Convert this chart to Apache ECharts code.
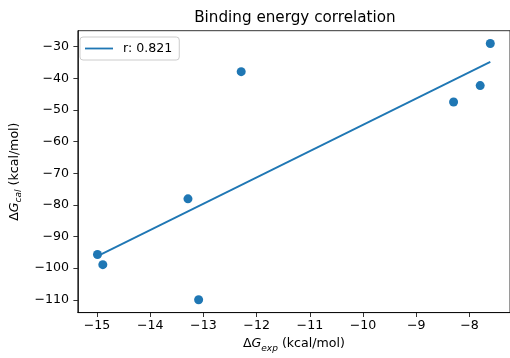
<!DOCTYPE html>
<html>
<head>
<meta charset="utf-8">
<script src="https://cdn.jsdelivr.net/npm/echarts@6/dist/echarts.min.js"></script>
<style>html,body{margin:0;padding:0;background:#fff}#c{width:510px;height:358px}</style>
</head>
<body>
<div id="c"></div>
<script>
var expValues = [-14.99, -14.89, -13.29, -13.09, -12.29, -8.30, -7.80, -7.61];
var calValues = [-95.7, -98.9, -78.1, -110.0, -37.9, -47.5, -42.3, -29.0];
var fitX = [-14.99, -7.61];
var fitY = [-96.2, -34.8];
var xTicks = [-15, -14, -13, -12, -11, -10, -9, -8];
var yTicks = [-110, -100, -90, -80, -70, -60, -50, -40, -30];
var legendLabel = 'r: 0.821';
var titleText = 'Binding energy correlation';

var FONT = 'DejaVu Sans';
var BLUE = '#1f77b4';
function fmt(v){ return String(Math.round(v)).replace('-', '\u2212'); }

var chart = echarts.init(document.getElementById('c'), null, {renderer:'canvas'});
var scatterData = expValues.map(function(x,i){ return [x, calValues[i]]; });
var lineData = fitX.map(function(x,i){ return [x, fitY[i]]; });

function richName(){
  return {
    n: {fontFamily: FONT, fontSize: 12.6, color: '#000', lineHeight: 18, verticalAlign: 'middle'},
    i: {fontFamily: FONT, fontSize: 12.6, fontStyle: 'italic', color: '#000', lineHeight: 18, verticalAlign: 'middle'},
    s: {fontFamily: FONT, fontSize: 9, fontStyle: 'italic', color: '#000', lineHeight: 9, verticalAlign: 'bottom'}
  };
}

chart.setOption({
  animation: false,
  backgroundColor: '#fff',
  title: {
    text: titleText, left: 294.9, textAlign: 'center', top: 11, padding: 0,
    textStyle: {fontFamily: FONT, fontSize: 15.2, fontWeight: 'normal', color: '#000'}
  },
  legend: {
    left: 80, top: 37, orient: 'vertical',
    padding: [5, 7, 5, 5],
    itemWidth: 28, itemHeight: 1.8,
    backgroundColor: 'rgba(255,255,255,0.8)',
    borderColor: '#cccccc', borderWidth: 1, borderRadius: 3,
    textStyle: {fontFamily: FONT, fontSize: 12.6, color: '#000', padding: [0,0,0,5]},
    data: [{name: legendLabel, icon: 'rect'}]
  },
  grid: {left: 74, top: 30.7, width: 441.7, height: 287.6, containLabel: false,
         show: true, borderColor: '#000', borderWidth: 0.8, backgroundColor: 'transparent'},
  xAxis: {
    type: 'value', min: -15.36, max: -7.24,
    name: '{n|Δ}{i|G}{s|exp}{n| (kcal/mol)}',
    nameLocation: 'middle', nameGap: 18,
    nameTextStyle: {rich: richName()},
    axisLine: {show: true, onZero: false, lineStyle: {color: '#000', width: 0.8}},
    axisTick: {show: true, length: 4.4, lineStyle: {color: '#000', width: 0.8}, customValues: xTicks},
    axisLabel: {margin: 7, fontFamily: FONT, fontSize: 12.6, color: '#000', formatter: fmt, customValues: xTicks},
    splitLine: {show: false}
  },
  yAxis: {
    type: 'value', min: -114.05, max: -24.95,
    name: '{n|Δ}{i|G}{s|cal}{n| (kcal/mol)}',
    nameLocation: 'middle', nameGap: 51, nameRotate: 90,
    nameTextStyle: {rich: richName()},
    axisLine: {show: true, onZero: false, lineStyle: {color: '#000', width: 0.8}},
    axisTick: {show: true, length: 4.4, lineStyle: {color: '#000', width: 0.8}, customValues: yTicks},
    axisLabel: {margin: 8.8, fontFamily: FONT, fontSize: 12.6, color: '#000', formatter: fmt, customValues: yTicks},
    splitLine: {show: false}
  },
  series: [
    {
      type: 'scatter', name: 'points', data: scatterData,
      symbolSize: 9, itemStyle: {color: BLUE, opacity: 1}, z: 2
    },
    {
      type: 'line', name: legendLabel, data: lineData,
      showSymbol: false, symbol: 'none',
      lineStyle: {color: BLUE, width: 1.8}, itemStyle: {color: BLUE}, z: 3
    }
  ]
});
</script>
</body>
</html>
